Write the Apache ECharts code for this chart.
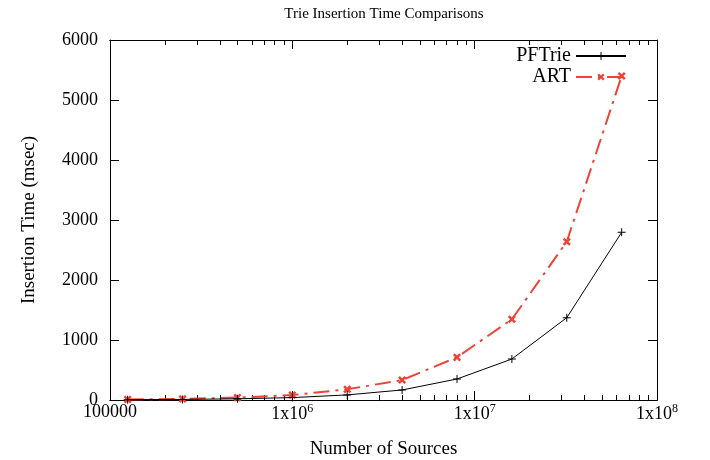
<!DOCTYPE html>
<html>
<head>
<meta charset="utf-8">
<script src="https://cdn.jsdelivr.net/npm/echarts@6/dist/echarts.min.js"></script>
<style>
  html, body { margin: 0; padding: 0; background: #fff; }
  #main { width: 710px; height: 460px; }
</style>
</head>
<body>
<div id="main"></div>
<script>
// number of sources (x), insertion time in msec (y)
const sources = [125000, 250000, 500000, 1000000, 2000000, 4000000, 8000000, 16000000, 32000000, 64000000]
const pftrie = [5, 10, 20, 40, 85, 167, 350, 683, 1372, 2795]
const art = [8, 18, 40, 83, 178, 333, 711, 1345, 2638, 5400]

const majorTicks = [1e5, 1e6, 1e7, 1e8]
const minorTicks = []
for (let d = 1e5; d < 1e8; d *= 10) {
  for (let m = 2; m <= 9; m++) minorTicks.push(d * m)
}

const FONT = "Liberation Serif"
const RED = "#ec4538"

var chart = echarts.init(document.getElementById("main"))

function xLabel(v) {
  if (v === 1e5) return "100000"
  return "1x10{sup|" + Math.round(Math.log10(v)) + "}"
}

const plusPath = "path://M4.4,0h1.2v4.4h4.4v1.2h-4.4v4.4h-1.2v-4.4h-4.4v-1.2h4.4z"
const crossPath = "path://M3.6,0h2.8v3.6h3.6v2.8h-3.6v3.6h-2.8v-3.6h-3.6v-2.8h3.6z"

function xAxisBase(pos, ticks, len, showLabel) {
  return {
    type: "log",
    position: pos,
    min: 1e5,
    max: 1e8,
    logBase: 10,
    axisLine: { show: true, onZero: false, lineStyle: { color: "#000", width: 1 } },
    axisTick: { show: true, inside: true, length: len, customValues: ticks, lineStyle: { color: "#000" } },
    axisLabel: showLabel ? {
      show: true,
      customValues: majorTicks,
      formatter: xLabel,
      color: "#000",
      fontFamily: FONT,
      fontSize: 18,
      margin: 3,
      rich: { sup: { fontFamily: FONT, fontSize: 12, verticalAlign: "top", padding: [0, 0, 10, 0] } }
    } : { show: false },
    splitLine: { show: false },
    minorTick: { show: false }
  }
}

var option = {
  animation: false,
  backgroundColor: "#fff",
  title: {
    text: "Trie Insertion Time Comparisons",
    left: 379,
    textAlign: "center",
    top: 2,
    textStyle: { fontFamily: FONT, fontSize: 15, fontWeight: "normal", color: "#000" }
  },
  legend: [
    {
      data: ["PFTrie"],
      right: 78,
      top: 41,
      align: "right",
      itemWidth: 50,
      itemHeight: 10,
      itemGap: 10,
      textStyle: { fontFamily: FONT, fontSize: 20, color: "#000" }
    },
    {
      data: ["ART"],
      right: 78,
      top: 62,
      align: "right",
      itemWidth: 50,
      itemHeight: 10,
      itemGap: 10,
      textStyle: { fontFamily: FONT, fontSize: 20, color: "#000" }
    }
  ],
  grid: { left: 110, right: 53, top: 40, bottom: 60, outerBoundsMode: "none" },
  xAxis: [
    Object.assign(xAxisBase("bottom", majorTicks, 9, true), {
      name: "Number of Sources",
      nameLocation: "middle",
      nameGap: 40,
      nameTextStyle: { fontFamily: FONT, fontSize: 19, color: "#000" }
    }),
    xAxisBase("bottom", minorTicks, 5, false),
    xAxisBase("top", majorTicks, 9, false),
    xAxisBase("top", minorTicks, 5, false)
  ],
  yAxis: [
    {
      type: "value",
      min: 0,
      max: 6000,
      interval: 1000,
      name: "Insertion Time (msec)",
      nameLocation: "middle",
      nameGap: 71,
      nameTextStyle: { fontFamily: FONT, fontSize: 19, color: "#000" },
      axisLine: { show: true, lineStyle: { color: "#000", width: 1 } },
      axisTick: { show: true, inside: true, length: 9, lineStyle: { color: "#000" } },
      axisLabel: { color: "#000", fontFamily: FONT, fontSize: 18, margin: 12, formatter: (v) => String(v) },
      splitLine: { show: false }
    },
    {
      type: "value",
      position: "right",
      min: 0,
      max: 6000,
      interval: 1000,
      axisLine: { show: true, lineStyle: { color: "#000", width: 1 } },
      axisTick: { show: true, inside: true, length: 9, lineStyle: { color: "#000" } },
      axisLabel: { show: false },
      splitLine: { show: false }
    }
  ],
  series: [
    {
      name: "PFTrie",
      type: "line",
      data: sources.map((s, i) => [s, pftrie[i]]),
      symbol: plusPath,
      symbolSize: 8,
      itemStyle: { color: "#000" },
      lineStyle: { color: "#000", width: 1 },
      z: 3
    },
    {
      name: "ART",
      type: "line",
      data: sources.map((s, i) => [s, art[i]]),
      symbol: crossPath,
      symbolSize: 9,
      symbolRotate: 45,
      itemStyle: { color: RED },
      lineStyle: { color: RED, width: 2, type: [16, 6, 3, 6] },
      z: 2
    }
  ]
}

chart.setOption(option)
</script>
</body>
</html>
